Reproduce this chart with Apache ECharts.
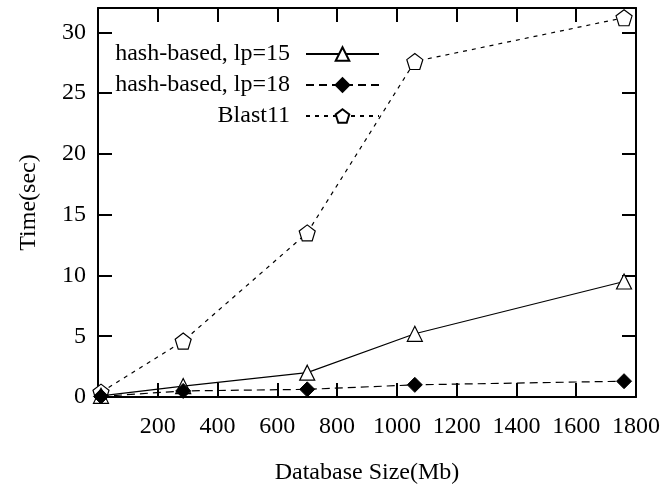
<!DOCTYPE html>
<html>
<head>
<meta charset="utf-8">
<script src="https://cdn.jsdelivr.net/npm/echarts@6/dist/echarts.min.js"></script>
<style>
    html, body { margin: 0; padding: 0; background: #fff; }
    #main { width: 668px; height: 485px; }
</style>
</head>
<body>
<div id="main"></div>
<script>
// database size (Mb)
var dbSize = [10, 285, 700, 1060, 1760];
// time (sec)
var lp15 = [0.1, 0.9, 2.0, 5.2, 9.5];
var lp18 = [0.05, 0.5, 0.63, 1.0, 1.3];
var blast11 = [0.4, 4.6, 13.5, 27.6, 31.2];
var seriesNames = ['hash-based, lp=15', 'hash-based, lp=18', 'Blast11'];

var pentagon = 'path://M50 0 L97.55 34.55 L79.39 90.45 L20.61 90.45 L2.45 34.55 Z';
var font = '"Liberation Serif", "DejaVu Serif", serif';
var fontSize = 24;

function pairs(xs, ys) {
    var out = [];
    for (var i = 0; i < xs.length; i++) {
        out.push([xs[i], ys[i]]);
    }
    return out;
}

//边框轴的公共样式
function axis(opt) {
    var base = {
        axisLine: {show: true, onZero: false, lineStyle: {color: '#000', width: 2}},
        axisTick: {inside: true, length: 14, lineStyle: {color: '#000', width: 2}},
        splitLine: {show: false}
    };
    for (var k in opt) {
        base[k] = opt[k];
    }
    return base;
}

var myChart = echarts.init(document.getElementById('main'));
myChart.setOption({
    animation: false,
    backgroundColor: '#fff',
    grid: {left: 98, right: 32, top: 8, bottom: 88, containLabel: false, outerBoundsMode: 'none'},
    legend: {
        orient: 'vertical',
        align: 'right',
        right: 288,
        top: 42,
        padding: 0,
        itemWidth: 73,
        itemHeight: 17,
        itemGap: 7,
        data: seriesNames,
        textStyle: {fontFamily: font, fontSize: fontSize, color: '#000', padding: [0, 11, 0, 0]}
    },
    xAxis: [
        axis({
            type: 'value', min: 0, max: 1800, interval: 200,
            name: 'Database Size(Mb)', nameLocation: 'middle', nameGap: 64,
            nameTextStyle: {fontFamily: font, fontSize: fontSize, color: '#000'},
            axisLabel: {
                fontFamily: font, fontSize: fontSize, color: '#000', margin: 18,
                formatter: function(v) { return v == 0 ? '' : v; }
            }
        }),
        axis({
            type: 'value', min: 0, max: 1800, interval: 200, position: 'top',
            axisLabel: {show: false}
        })
    ],
    yAxis: [
        axis({
            type: 'value', min: 0, max: 32, interval: 5,
            name: 'Time(sec)', nameLocation: 'middle', nameGap: 57,
            nameTextStyle: {fontFamily: font, fontSize: fontSize, color: '#000'},
            axisLabel: {
                fontFamily: font, fontSize: fontSize, color: '#000', margin: 12,
                formatter: function(v) { return v % 5 == 0 ? v : ''; }
            }
        }),
        axis({
            type: 'value', min: 0, max: 32, interval: 5, position: 'right',
            axisLabel: {show: false}
        })
    ],
    series: [
        {
            name: seriesNames[0],
            type: 'line',
            data: pairs(dbSize, lp15),
            symbol: 'triangle',
            symbolSize: 15,
            itemStyle: {color: '#fff', borderColor: '#000', borderWidth: 1.2},
            lineStyle: {color: '#000', width: 1.2, type: 'solid'},
            z: 3
        },
        {
            name: seriesNames[1],
            type: 'line',
            data: pairs(dbSize, lp18),
            symbol: 'diamond',
            symbolSize: 15,
            itemStyle: {color: '#000', borderColor: '#000', borderWidth: 1},
            lineStyle: {color: '#000', width: 1.2, type: [8, 5]},
            z: 4
        },
        {
            name: seriesNames[2],
            type: 'line',
            data: pairs(dbSize, blast11),
            symbol: pentagon,
            symbolSize: 16,
            itemStyle: {color: '#fff', borderColor: '#000', borderWidth: 1.2},
            lineStyle: {color: '#000', width: 1.2, type: [4, 5]},
            z: 2
        }
    ]
});
</script>
</body>
</html>
